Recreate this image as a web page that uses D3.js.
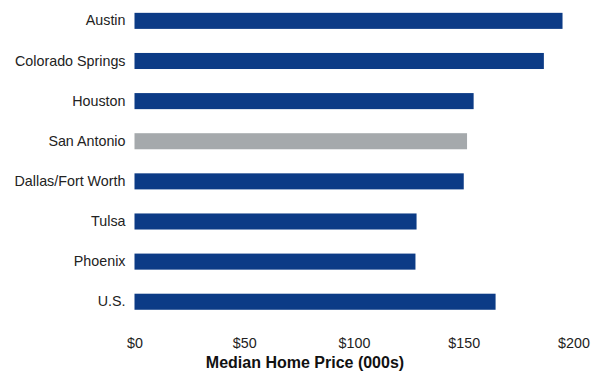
<!DOCTYPE html>
<html>
<head>
<meta charset="utf-8">
<script src="https://cdn.jsdelivr.net/npm/d3@7"></script>
<style>
  html, body { margin: 0; padding: 0; background: #fff; }
  svg { display: block; font-family: "Liberation Sans", Arial, Helvetica, sans-serif; }
</style>
</head>
<body>
<svg id="chart" width="600" height="373"></svg>
<script>
// Median home price by metro area, in thousands of dollars
const cities = ["Austin", "Colorado Springs", "Houston", "San Antonio",
                "Dallas/Fort Worth", "Tulsa", "Phoenix", "U.S."];
const prices = [195, 186.5, 154.5, 151.5, 150, 128.5, 128, 164.5];
const highlight = "San Antonio";
const tickValues = [0, 50, 100, 150, 200];
const tickLabels = ["$0", "$50", "$100", "$150", "$200"];
const axisTitle = "Median Home Price (000s)";

const data = cities.map((c, i) => ({ city: c, price: prices[i] }));

const svg = d3.select("#chart");
const x = d3.scaleLinear().domain([0, 200]).range([134.5, 573.5]);
const y = d3.scaleBand().domain(cities).range([0.8, 321.8])
  .paddingInner(0.6).paddingOuter(0.3);

// Bars
svg.append("g").selectAll("rect").data(data).join("rect")
  .attr("x", x(0))
  .attr("y", d => y(d.city))
  .attr("width", d => x(d.price) - x(0))
  .attr("height", y.bandwidth())
  .attr("fill", d => d.city === highlight ? "#a5a9ac" : "#0c3b86");

// Category labels
const yAxis = svg.append("g")
  .attr("transform", `translate(${x(0) - 9},0)`)
  .call(d3.axisLeft(y).tickSize(0).tickPadding(0));
yAxis.select(".domain").remove();
yAxis.selectAll("text")
  .attr("fill", "#222")
  .style("font-size", "14.3px")
  .style("font-family", "'Liberation Sans', Arial, sans-serif");

// Value axis (labels only)
const xAxis = svg.append("g")
  .attr("transform", "translate(0,347.5)")
  .call(d3.axisBottom(x).tickValues(tickValues)
    .tickFormat((d, i) => tickLabels[i]).tickSize(0).tickPadding(0));
xAxis.select(".domain").remove();
xAxis.selectAll("text")
  .attr("dy", "0")
  .attr("fill", "#222")
  .style("font-size", "14.3px")
  .style("font-family", "'Liberation Sans', Arial, sans-serif");

// Axis title
svg.append("text")
  .attr("x", 305)
  .attr("y", 368)
  .attr("text-anchor", "middle")
  .attr("fill", "#111")
  .style("font-size", "16px")
  .style("font-weight", "bold")
  .text(axisTitle);
</script>
</body>
</html>
